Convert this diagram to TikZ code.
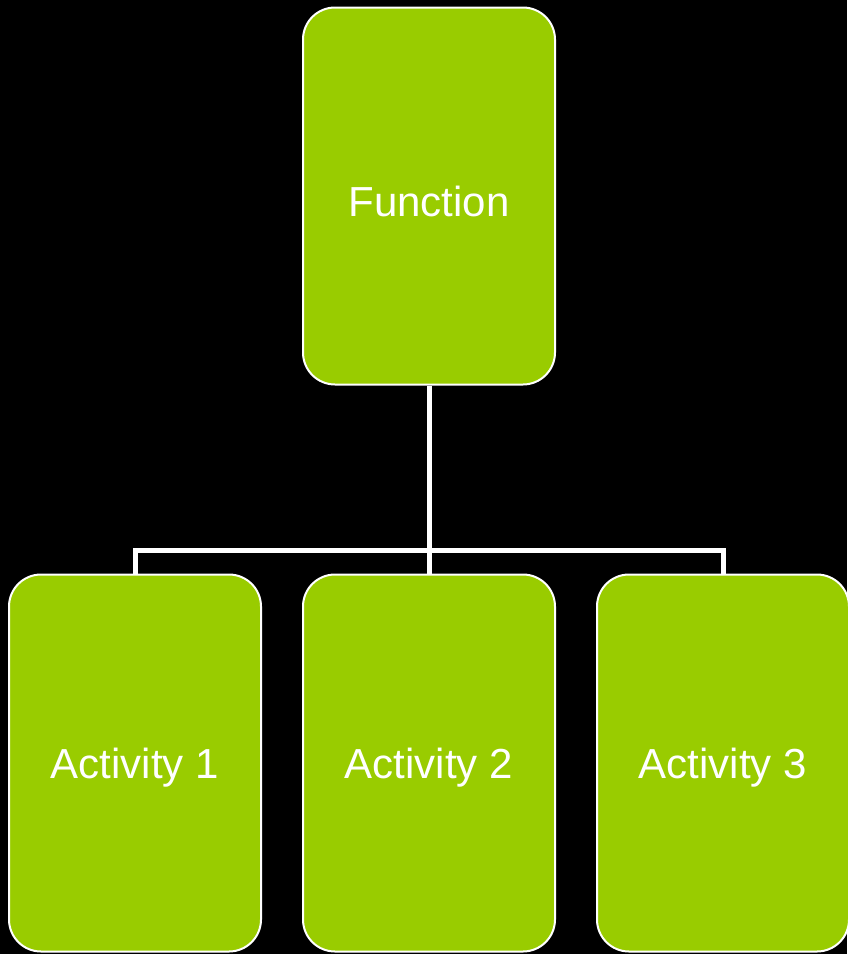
\documentclass[tikz,border=0pt]{standalone}
\usepackage{fontspec}
\setmainfont{Liberation Sans}
\definecolor{boxgreen}{HTML}{99CC00}
\newcommand{\lowtext}[1]{\raisebox{-5pt}[\height][\depth]{#1}}
\begin{document}
\begin{tikzpicture}[x=1pt,y=1pt,
  box/.style={draw=white, line width=2pt, fill=boxgreen, rounded corners=32pt,
    minimum width=252pt, minimum height=377pt, inner sep=0pt,
    text=white, font=\fontsize{42}{48}\selectfont},
  link/.style={draw=white, line width=5pt}]
\fill[black] (0,0) rectangle (847,-954);
\useasboundingbox (0,0) rectangle (847,-954);
\coordinate (j) at (429,-550.5);
\node[box] (f) at (429,-196) {\lowtext{Function}};
\node[box] (a1) at (135,-763) {\lowtext{Activity 1}};
\node[box] (a2) at (429,-763) {\lowtext{Activity 2}};
\node[box] (a3) at (723,-763) {\lowtext{Activity 3}};
\draw[link] (f.south) -- (j);
\draw[link] (a1.north) |- (j) -| (a3.north);
\draw[link] (j) -- (a2.north);
\end{tikzpicture}
\end{document}
